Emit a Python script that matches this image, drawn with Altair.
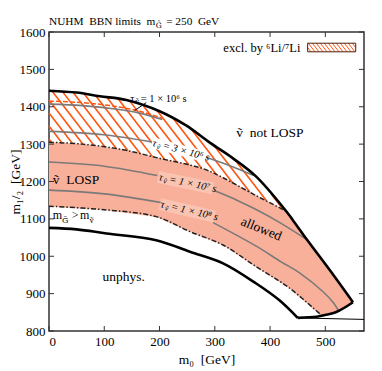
import math
import altair as alt
import numpy as np
import pandas as pd

W, H = 315, 299
XDOM = [0, 570]
YDOM = [800, 1600]
SERIF = "Liberation Serif"
SALMON = "#F9B09A"
ORANGE = "#FF5511"
GREY = "#7a7a7a"
NB = "\u00a0"
INTERP = "catmull-rom"
SX = W / (XDOM[1] - XDOM[0])
SY = H / (YDOM[1] - YDOM[0])

# ---- boundary curves (m0 [GeV], m1/2 [GeV]) ----
top_x = [0, 50, 92, 140, 200, 248, 291, 333, 375, 430, 441, 472, 508, 550]
top_y = [1443, 1438, 1428, 1418, 1388, 1350, 1304, 1262, 1213, 1119, 1097, 1034, 963, 877]
corner_x = [550, 520, 493, 484, 450]
corner_y = [877, 851, 841, 838, 835]
thin_x = [450, 570]
thin_y = [835, 831]
unphys_x = [0, 50, 104, 194, 255, 315, 375, 417, 450]
unphys_y = [1076, 1072, 1061, 1043, 1012, 981, 927, 882, 835]
ddup_x = [0, 60, 134, 200, 255, 285, 315, 375, 417, 430]
ddup_y = [1305, 1300, 1285, 1262, 1244, 1231, 1210, 1162, 1130, 1119]
ddlo_x = [0, 104, 194, 255, 315, 375, 435, 493]
ddlo_y = [1134, 1124, 1106, 1066, 1030, 972, 915, 842]

# lifetime contours (segments interrupted by labels)
t6_x = [0, 60, 120, 164, 205]
t6_y = [1407, 1403, 1394, 1383, 1366]
li_x = [0, 60, 120, 164, 205]
li_y = [1415, 1411, 1401, 1388, 1369]
t3e6_x = [[0, 100, 188], [280, 330, 369]]
t3e6_y = [[1334, 1325, 1305], [1267, 1241, 1217]]
t1e7_x = [[0, 100, 196], [300, 340, 380, 420, 465]]
t1e7_y = [[1252, 1241, 1216], [1175, 1150, 1121, 1088, 1046]]
t1e8_x = [[0, 100, 205], [297, 375, 420, 454, 496, 515, 524]]
t1e8_y = [[1177, 1167, 1143], [1090, 1027, 985, 955, 905, 875, 854]]

# lifetime labels: centre (m0, m1/2), mantissa, exponent, angle
tau_cx = [196, 235, 247, 250]
tau_cy = [1421, 1285, 1197, 1123]
tau_mant = ["1", "3", "1", "1"]
tau_exp = ["⁶", "⁶", "⁷", "⁸"]
tau_angle = [0, 15, 12, 13]
tau_italic = [False, True, True, True]

x_ticks = [0, 100, 200, 300, 400, 500]
y_ticks = [800, 900, 1000, 1100, 1200, 1300, 1400, 1500, 1600]

legend_box_x = [468, 555]
legend_box_y = [1547, 1570]

XS = alt.Scale(domain=XDOM, nice=False, zero=False)
YS = alt.Scale(domain=YDOM, nice=False, zero=False)
XAX = alt.Axis(values=x_ticks, format="d", ticks=False, domain=False, grid=False, labelFont=SERIF,
               labelFontSize=13, labelColor="black", labelPadding=4, title=f"m₀{NB}{NB}[GeV]",
               titleFont=SERIF, titleFontSize=13.5, titleFontWeight="normal", titleColor="black",
               titlePadding=4)
YAX = alt.Axis(values=y_ticks, format="d", ticks=False, domain=False, grid=False, labelFont=SERIF,
               labelFontSize=13, labelColor="black", labelPadding=4, title=f"m₁/₂{NB}{NB}[GeV]",
               titleFont=SERIF, titleFontSize=13.5, titleFontWeight="normal", titleColor="black",
               titleX=-34, titleY=H / 2, titleAlign="center", titleBaseline="middle", titleAngle=270)


def X(f="x"):
    return alt.X(f"{f}:Q", scale=XS, axis=XAX)


def Y(f="y"):
    return alt.Y(f"{f}:Q", scale=YS, axis=YAX)


def curve(xs, ys, seg=0):
    return pd.DataFrame({"x": xs, "y": ys, "i": range(len(xs)), "seg": seg})


def multi(xss, yss):
    return pd.concat([curve(a, b, k) for k, (a, b) in enumerate(zip(xss, yss))], ignore_index=True)


def line(df, **kw):
    return alt.Chart(df).mark_line(interpolate=INTERP, **kw).encode(
        x=X(), y=Y(), order="i:Q", detail="seg:N")


def hatch(ux, uy, lx, ly, x0, x1, spacing=10.0, k=1.3):
    px = np.arange(x0 * SX, x1 * SX, 0.25)
    xs = px / SX
    up = np.interp(xs, ux, uy)
    lo = np.interp(xs, lx, ly)
    rows = []
    for c in np.arange(-k * x1 * SX - spacing * k, H + spacing * k, spacing * k):
        py = k * px + c
        y = YDOM[1] - py / SY
        inside = (y <= up) & (y >= lo)
        if not inside.any():
            continue
        idx = np.flatnonzero(inside)
        breaks = np.flatnonzero(np.diff(idx) > 1)
        starts = np.r_[idx[0], idx[breaks + 1]]
        ends = np.r_[idx[breaks], idx[-1]]
        for s, e in zip(starts, ends):
            rows.append({"x": xs[s], "y": y[s], "x2": xs[e], "y2": y[e]})
    return pd.DataFrame(rows)


def txt(x, y, t, size=13.5, angle=0, align="left", baseline="middle", italic=False, dx=0, dy=0,
        font=SERIF):
    return alt.Chart(pd.DataFrame({"x": [x], "y": [y], "t": [t]})).mark_text(
        font=font, fontSize=size, angle=angle, align=align, baseline=baseline, dx=dx, dy=dy,
        fontStyle="italic" if italic else "normal", color="black").encode(x=X(), y=Y(), text="t:N")


def label_band(cx, cy, angle, half_len, color, opacity, width):
    a = math.radians(angle)
    ddx = half_len * math.cos(a) / SX
    ddy = half_len * math.sin(a) / SY
    df = pd.DataFrame({"x": [cx - ddx], "y": [cy + ddy], "x2": [cx + ddx], "y2": [cy - ddy]})
    return alt.Chart(df).mark_rule(color=color, opacity=opacity, strokeWidth=width, strokeCap="butt").encode(
        x=X(), y=Y(), x2="x2:Q", y2="y2:Q")


layers = []

# allowed (salmon) region
poly_x = ddup_x + top_x[10:] + corner_x[1:3] + ddlo_x[::-1][1:]
poly_y = ddup_y + top_y[10:] + corner_y[1:3] + ddlo_y[::-1][1:]
layers.append(alt.Chart(curve(poly_x, poly_y)).mark_line(
    interpolate="linear", fill=SALMON, stroke=SALMON, strokeWidth=0.5)
    .encode(x=X(), y=Y(), order="i:Q"))

# hatched Li exclusion
hd = hatch(top_x, top_y, ddup_x, ddup_y, 0, 430)
layers.append(alt.Chart(hd).mark_rule(color=ORANGE, strokeWidth=1.6)
              .encode(x=X(), y=Y(), x2="x2:Q", y2="y2:Q"))

# lifetime contours
for xs_, ys_ in [(t3e6_x, t3e6_y), (t1e7_x, t1e7_y), (t1e8_x, t1e8_y)]:
    layers.append(line(multi(xs_, ys_), color=GREY, strokeWidth=1.6))
layers.append(line(curve(t6_x, t6_y), color=GREY, strokeWidth=1.6))
layers.append(line(curve(li_x, li_y), color=ORANGE, strokeWidth=1.5, strokeDash=[5, 2]))

# dash-dot boundaries of the gravitino region
for xs_, ys_ in [(ddup_x, ddup_y), (ddlo_x, ddlo_y)]:
    layers.append(line(curve(xs_, ys_), color="#222", strokeWidth=1.5, strokeDash=[5, 2, 1.5, 2]))

# black boundaries
for xs_, ys_ in [(top_x, top_y), (corner_x, corner_y), (unphys_x, unphys_y)]:
    layers.append(line(curve(xs_, ys_), color="black", strokeWidth=2.6))
layers.append(line(curve(thin_x, thin_y), color="black", strokeWidth=1))

# leader for 1e6 label
layers.append(line(curve([176, 155], [1411, 1390]), color="black", strokeWidth=1))

# label backgrounds
layers.append(label_band(tau_cx[1], tau_cy[1], tau_angle[1], 28, "white", 1.0, 11))
layers.append(label_band(tau_cx[2], tau_cy[2], tau_angle[2], 28, "white", 0.25, 12))
layers.append(label_band(tau_cx[3], tau_cy[3], tau_angle[3], 28, "white", 0.25, 12))

# lifetime labels (tau with tilde-nu subscript)
for cx, cy, m, e, ang, it in zip(tau_cx, tau_cy, tau_mant, tau_exp, tau_angle, tau_italic):
    layers.append(txt(cx, cy, "τ", size=10.5, angle=ang, italic=it, dx=-27))
    layers.append(txt(cx, cy, "ṽ", size=7.5, angle=ang, italic=it, dx=-22, dy=3))
    layers.append(txt(cx, cy, f"={NB}{m}{NB}×{NB}10{e}{NB}s", size=10.5, angle=ang, italic=it, dx=-16.5))

# region labels
layers.append(txt(339, 1330, f"ṽ{NB}{NB}not LOSP"))
layers.append(txt(7, 1204, f"ṽ{NB}{NB}LOSP"))
layers.append(txt(97, 944, "unphys."))
layers.append(txt(384, 1073, "allowed", angle=22, align="center"))
layers.append(txt(6.7, 1099, "m", size=12, baseline="alphabetic"))
layers.append(txt(23.5, 1090, "G\u0303", size=8, baseline="alphabetic", font="DejaVu Serif"))
layers.append(txt(41, 1099, ">", size=12, baseline="alphabetic"))
layers.append(txt(56, 1099, "m", size=12, baseline="alphabetic"))
layers.append(txt(73.5, 1090, "ṽ", size=8.5, baseline="alphabetic"))

# title
layers.append(txt(0, 1620, f"NUHM{NB}{NB}BBN limits{NB}{NB}m", size=11.3, baseline="alphabetic"))
layers.append(txt(193, 1612, "G\u0303", size=7.5, baseline="alphabetic", font="DejaVu Serif"))
layers.append(txt(212, 1620, f"={NB}250{NB}{NB}GeV", size=11.3, baseline="alphabetic"))

# legend
layers.append(txt(455, 1558, "excl. by ⁶Li/⁷Li", size=12.5, align="right"))
lh = hatch([0, 1000], [legend_box_y[1]] * 2, [0, 1000], [legend_box_y[0]] * 2,
           legend_box_x[0], legend_box_x[1], spacing=4.0, k=1.3)
layers.append(alt.Chart(lh).mark_rule(color=ORANGE, strokeWidth=1)
              .encode(x=X(), y=Y(), x2="x2:Q", y2="y2:Q"))
layers.append(alt.Chart(pd.DataFrame({"x": [legend_box_x[0]], "x2": [legend_box_x[1]],
                                      "y": [legend_box_y[0]], "y2": [legend_box_y[1]]}))
              .mark_rect(fill=None, stroke="#4a2010", strokeWidth=1)
              .encode(x=X(), x2="x2:Q", y=Y(), y2="y2:Q"))

# inward ticks on all four sides
xt = pd.DataFrame({"x": x_ticks})
yt = pd.DataFrame({"y": y_ticks})
layers.append(alt.Chart(xt).mark_rule(color="#333", strokeWidth=1)
              .encode(x=X(), y=alt.value(H), y2=alt.value(H - 5)))
layers.append(alt.Chart(xt).mark_rule(color="#333", strokeWidth=1)
              .encode(x=X(), y=alt.value(0), y2=alt.value(5)))
layers.append(alt.Chart(yt).mark_rule(color="#333", strokeWidth=1)
              .encode(y=Y(), x=alt.value(0), x2=alt.value(5)))
layers.append(alt.Chart(yt).mark_rule(color="#333", strokeWidth=1)
              .encode(y=Y(), x=alt.value(W), x2=alt.value(W - 5)))

chart = alt.layer(*layers).properties(
    width=W, height=H,
    autosize=alt.AutoSizeParams(type="none"),
    padding={"left": 41, "top": 24, "right": 10, "bottom": 40},
).configure_view(stroke="#333", strokeWidth=1.5).configure_axis(
    labelFont=SERIF, titleFont=SERIF)

chart.save("out.html", embed_options={"renderer": "svg", "actions": False})
